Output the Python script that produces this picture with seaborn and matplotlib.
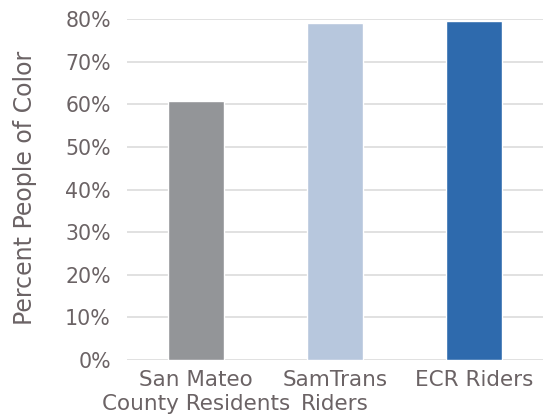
import matplotlib
matplotlib.use("Agg")
import matplotlib.pyplot as plt
import seaborn as sns
import pandas as pd
from matplotlib.ticker import PercentFormatter

categories = ["San Mateo\nCounty Residents", "SamTrans\nRiders", "ECR Riders"]
pct_poc = [60.8, 79.2, 79.5]
bar_colors = ["#939598", "#b7c7dd", "#2e6aad"]

df = pd.DataFrame({"group": categories, "pct": pct_poc})

sns.set_style("white")
plt.rcParams["font.family"] = ["DejaVu Sans"]
text_color = "#6b6365"

fig, ax = plt.subplots(figsize=(5.47, 4.16), dpi=100)
fig.subplots_adjust(left=0.232, right=0.993, top=0.9536, bottom=0.1346)

sns.barplot(data=df, x="group", y="pct", hue="group", palette=bar_colors,
            width=0.405, legend=False, ax=ax, saturation=1)

ax.set_ylim(0, 80)
ax.set_yticks(range(0, 81, 10))
ax.yaxis.set_major_formatter(PercentFormatter(decimals=0))
ax.grid(axis="y", color="#dcdcdc", linewidth=1.2)
ax.set_axisbelow(True)
for s in ax.spines.values():
    s.set_visible(False)

ax.tick_params(axis="y", length=0, labelsize=14.8, colors=text_color, pad=11.5)
ax.tick_params(axis="x", length=0, labelsize=15.5, colors=text_color, pad=7.5)
for lbl in ax.get_xticklabels():
    lbl.set_linespacing(1.2)
ax.set_xlabel("")
ax.set_ylabel("Percent People of Color", fontsize=17, color=text_color)
ax.yaxis.set_label_coords(-0.216, 0.505)

fig.savefig("out.png", dpi=100)
